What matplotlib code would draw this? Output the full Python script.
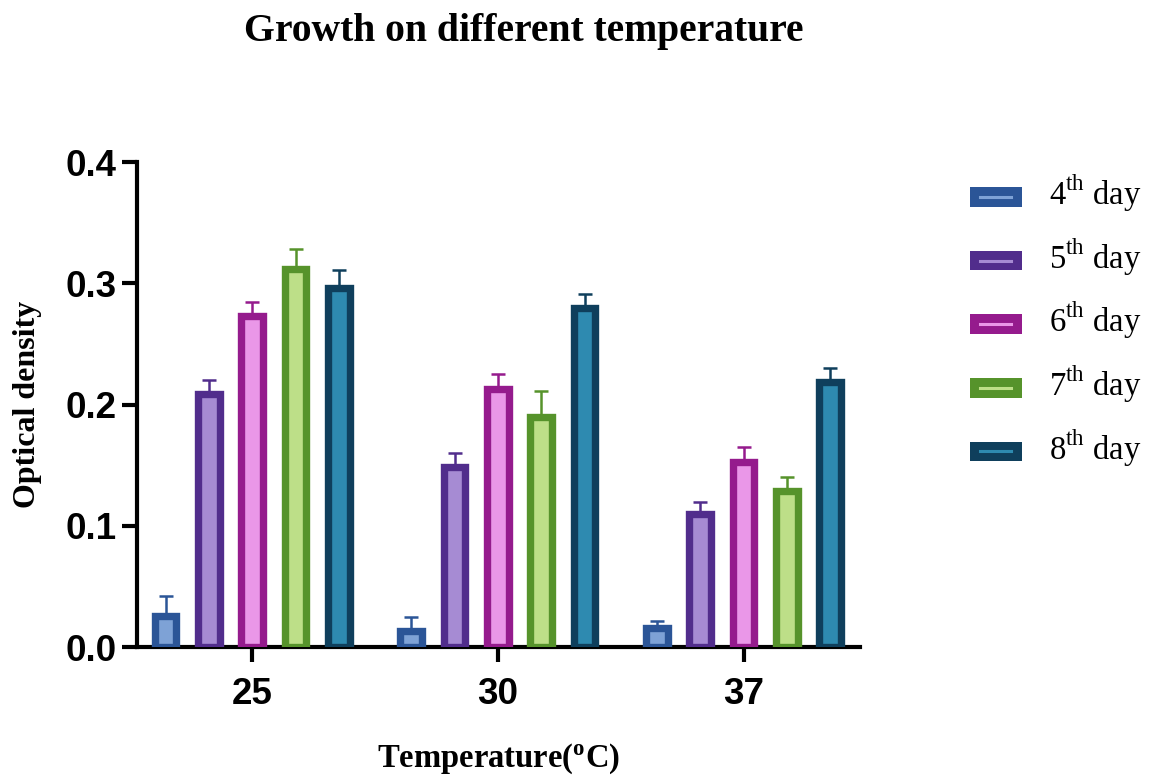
import numpy as np
import matplotlib
matplotlib.use("Agg")
import matplotlib.pyplot as plt
from matplotlib.patches import Rectangle
from matplotlib.lines import Line2D
from matplotlib.legend_handler import HandlerBase

plt.rcParams['mathtext.fontset'] = 'custom'
plt.rcParams['mathtext.rm'] = 'Liberation Serif'
plt.rcParams['mathtext.bf'] = 'Liberation Serif:bold'

### data
temps = ['25', '30', '37']
days = ['4', '5', '6', '7', '8']
means = [
	[0.026, 0.013, 0.016],   # 4th day
	[0.209, 0.149, 0.110],   # 5th day
	[0.273, 0.213, 0.153],   # 6th day
	[0.312, 0.190, 0.129],   # 7th day
	[0.296, 0.280, 0.219],   # 8th day
]
errs = [
	[0.016, 0.012, 0.006],
	[0.011, 0.011, 0.010],
	[0.012, 0.012, 0.012],
	[0.016, 0.021, 0.011],
	[0.015, 0.011, 0.011],
]
edge_cols = ['#2B5597', '#512D8C', '#951B8D', '#56932B', '#0F3F5C']
fill_cols = ['#7EA2D6', '#A68BD3', '#EA97E8', '#BDDF88', '#2E8AB0']


class HandlerBarLine(HandlerBase):
	""" dark box with a light line across its middle """
	def __init__(self, fill):
		super().__init__()
		self.fill = fill
	def create_artists(self, legend, orig, xd, yd, w, h, fs, trans):
		r = Rectangle((xd, yd), w, h, facecolor=orig.get_facecolor(), edgecolor='none', transform=trans)
		l = Line2D([xd + 0.2*w, xd + 0.8*w], [yd + h/2, yd + h/2], color=self.fill, lw=2.2, transform=trans)
		return [r, l]


fig = plt.figure(figsize=(11.5, 7.76), dpi=100)
ax = fig.add_axes([0.119, 0.166, 0.629, 0.625])

x = np.arange(len(temps))
step = 0.1765
w = 0.088
handles, hmap = [], {}
for i in range(len(days)):
	pos = x + (i - 2) * step
	ax.errorbar(pos, means[i], yerr=[np.zeros(3), errs[i]], fmt='none', ecolor=edge_cols[i],
		elinewidth=1.8, capsize=5, capthick=1.8, zorder=2)
	b = ax.bar(pos, means[i], width=w, color=fill_cols[i], edgecolor=edge_cols[i], linewidth=5.3, zorder=3)
	h = Rectangle((0, 0), 1, 1, facecolor=edge_cols[i])
	handles.append(h)
	hmap[h] = HandlerBarLine(fill_cols[i])

ax.set_xlim(-0.47, 2.475)
ax.set_ylim(0, 0.4)
ax.set_yticks([0, 0.1, 0.2, 0.3, 0.4])
ax.set_xticks(x)
ax.set_xticklabels(temps)
for s in ['top', 'right']:
	ax.spines[s].set_visible(False)
for s in ['left', 'bottom']:
	ax.spines[s].set_linewidth(3)
ax.tick_params(width=3, length=10.5, labelsize=26.5)
ax.tick_params(axis='x', pad=11)
ax.tick_params(axis='y', pad=4)
for lab in ax.get_xticklabels() + ax.get_yticklabels():
	lab.set_fontweight('bold')
	lab.set_family('Liberation Sans')

ax.set_xlabel(r'Temperature($\mathbf{^o}$C)', family='Liberation Serif', fontweight='bold', fontsize=23.5, labelpad=21)
ax.set_ylabel('Optical density', family='Liberation Serif', fontweight='bold', fontsize=23, labelpad=17)
fig.suptitle('Growth on different temperature', x=0.455, y=0.983, family='Liberation Serif', fontweight='bold', fontsize=28.5)

labels = [r'%s$^{\mathrm{th}}$ day' % d for d in days]
leg = fig.legend(handles, labels, handler_map=hmap, loc='upper left', bbox_to_anchor=(0.8176, 0.815),
	frameon=False, prop={'family': 'Liberation Serif', 'size': 23.5},
	handlelength=1.6, handleheight=0.55, handletextpad=0.82, labelspacing=0.69)

fig.savefig('out.png', dpi=100)
